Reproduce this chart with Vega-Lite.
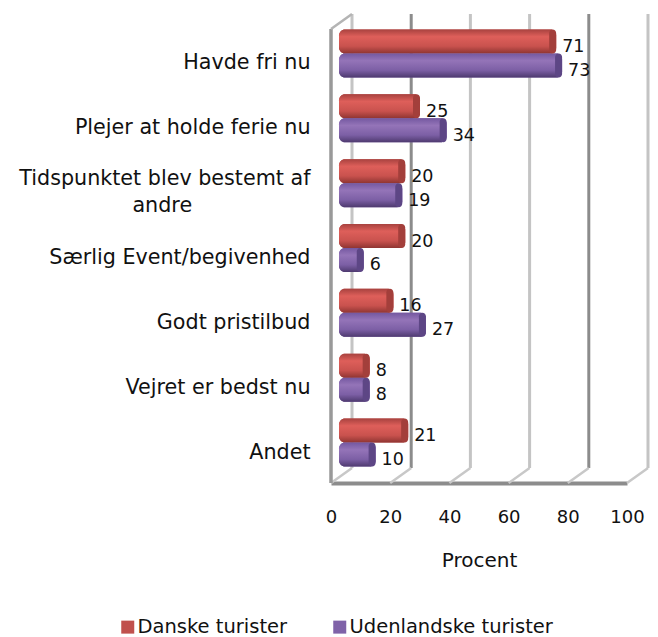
{
"$schema":"https://vega.github.io/schema/vega-lite/v6.json",
"autosize":"none","width":296,"height":469,
"padding":{"left":331,"top":14,"right":31,"bottom":154},
"background":"white",
"config":{"view":{"stroke":null},"text":{"font":"DejaVu Sans"}},
"datasets":{
"grid":[{"v":0},{"v":20},{"v":40},{"v":60},{"v":80},{"v":100}],
"bars":[
{"reason":"Havde fri nu","group":"Danske turister","pct":71},
{"reason":"Havde fri nu","group":"Udenlandske turister","pct":73},
{"reason":"Plejer at holde ferie nu","group":"Danske turister","pct":25},
{"reason":"Plejer at holde ferie nu","group":"Udenlandske turister","pct":34},
{"reason":"Tidspunktet blev bestemt af andre","group":"Danske turister","pct":20},
{"reason":"Tidspunktet blev bestemt af andre","group":"Udenlandske turister","pct":19},
{"reason":"Særlig Event/begivenhed","group":"Danske turister","pct":20},
{"reason":"Særlig Event/begivenhed","group":"Udenlandske turister","pct":6},
{"reason":"Godt pristilbud","group":"Danske turister","pct":16},
{"reason":"Godt pristilbud","group":"Udenlandske turister","pct":27},
{"reason":"Vejret er bedst nu","group":"Danske turister","pct":8},
{"reason":"Vejret er bedst nu","group":"Udenlandske turister","pct":8},
{"reason":"Andet","group":"Danske turister","pct":21},
{"reason":"Andet","group":"Udenlandske turister","pct":10}
]},
"layer":[
{"data":{"name":"grid"},
 "mark":{"type":"rule","strokeWidth":3,"xOffset":21,"stroke":{"expr":"datum.v==20||datum.v==80?'#8c8c8c':'#c4c4c4'"}},
 "encoding":{"x":{"field":"v","type":"quantitative","scale":{"domain":[0,100],"nice":false}},"y":{"value":0},"y2":{"value":{"expr":"height-15"}}}},
{"data":{"name":"grid"},
 "mark":{"type":"rule","strokeWidth":2.5,"x2Offset":21,"stroke":"#c8c8c8"},
 "encoding":{"x":{"field":"v","type":"quantitative"},"x2":{"field":"v"},"y":{"value":{"expr":"height"}},"y2":{"value":{"expr":"height-15"}}}},
{"data":{"name":"grid"},"transform":[{"filter":"datum.v==0"}],
 "mark":{"type":"rule","strokeWidth":3.5,"stroke":"#999999"},
 "encoding":{"x":{"field":"v","type":"quantitative"},"y":{"value":15},"y2":{"value":{"expr":"height"}}}},
{"data":{"name":"grid"},"transform":[{"filter":"datum.v==0"}],
 "mark":{"type":"rule","strokeWidth":2.5,"x2Offset":21,"stroke":"#b4b4b4"},
 "encoding":{"x":{"field":"v","type":"quantitative"},"x2":{"field":"v"},"y":{"value":15},"y2":{"value":0}}},
{"data":{"name":"bars"},
 "mark":{"type":"bar","cornerRadius":6,"xOffset":15,"x2Offset":8},
 "encoding":{
  "x":{"field":"pct","type":"quantitative","scale":{"domain":[0,100],"nice":false},
   "axis":{"values":[0,20,40,60,80,100],"grid":false,"ticks":false,"domainColor":"#8c8c8c","domainWidth":4,"labelFont":"DejaVu Sans","labelFontSize":18,"labelColor":"#111111","labelPadding":25,"title":"Procent","titleFont":"DejaVu Sans","titleFontWeight":"normal","titleFontSize":20,"titleColor":"#111111","titlePadding":24,"titleAnchor":"middle","titleX":148,"format":"d","labelFlush":false}},
  "x2":{"datum":0},
  "y":{"field":"reason","type":"nominal","sort":null,
   "scale":{"range":[7,461],"paddingInner":0.26,"paddingOuter":0.13},
   "axis":{"title":null,"ticks":false,"domain":false,"labelFont":"DejaVu Sans","labelFontSize":20.7,"labelColor":"#111111","labelPadding":21,"labelLimit":330,
    "labelOffset":{"condition":{"test":"datum.value=='Tidspunktet blev bestemt af andre'","value":-4},"value":10},
    "labelExpr":"datum.label=='Tidspunktet blev bestemt af andre'?['Tidspunktet blev bestemt af','andre\u00a0\u00a0\u00a0\u00a0\u00a0\u00a0\u00a0\u00a0\u00a0\u00a0\u00a0\u00a0\u00a0\u00a0\u00a0\u00a0\u00a0\u00a0\u200b']:datum.label","labelLineHeight":27}},
  "yOffset":{"field":"group","type":"nominal","sort":null,"scale":{"paddingInner":0,"paddingOuter":0}},
  "color":{"field":"group","type":"nominal","sort":null,
   "scale":{"domain":["Danske turister","Udenlandske turister"],"range":["#c0504d","#7f62a8"]},
   "legend":{"title":null,"orient":"none","legendX":-213,"legendY":603,"direction":"horizontal","columns":2,"columnPadding":42,"symbolType":"square","symbolSize":169,"symbolStrokeWidth":0,"labelFont":"DejaVu Sans","labelFontSize":19.5,"labelColor":"#111111","labelOffset":0,"labelLimit":300}}
 }},
{"data":{"name":"bars"},"transform":[{"filter":"datum.group=='Danske turister'"}],
 "mark":{"type":"bar","cornerRadius":6,"xOffset":15,"x2Offset":8,
  "fill":{"x1":0,"y1":0,"x2":0,"y2":1,"gradient":"linear","stops":[{"offset":0,"color":"#a8423f"},{"offset":0.3,"color":"#de5f5a"},{"offset":0.7,"color":"#c9524e"},{"offset":1,"color":"#8f3532"}]}},
 "encoding":{
  "x":{"field":"pct","type":"quantitative"},"x2":{"datum":0},
  "y":{"field":"reason","type":"nominal","sort":null},
  "yOffset":{"field":"group","type":"nominal","sort":null}
 }},
{"data":{"name":"bars"},"transform":[{"filter":"datum.group!='Danske turister'"}],
 "mark":{"type":"bar","cornerRadius":6,"xOffset":15,"x2Offset":8,
  "fill":{"x1":0,"y1":0,"x2":0,"y2":1,"gradient":"linear","stops":[{"offset":0,"color":"#7458a0"},{"offset":0.3,"color":"#9474b8"},{"offset":0.7,"color":"#7c5fa5"},{"offset":1,"color":"#4e3a6f"}]}},
 "encoding":{
  "x":{"field":"pct","type":"quantitative"},"x2":{"datum":0},
  "y":{"field":"reason","type":"nominal","sort":null},
  "yOffset":{"field":"group","type":"nominal","sort":null}
 }},
{"data":{"name":"bars"},
 "mark":{"type":"bar","cornerRadius":4,"xOffset":15,"x2Offset":8},
 "encoding":{
  "x":{"field":"pct","type":"quantitative"},"x2":{"field":"pct"},
  "y":{"field":"reason","type":"nominal","sort":null},
  "yOffset":{"field":"group","type":"nominal","sort":null},
  "fill":{"field":"group","type":"nominal","sort":null,"scale":{"domain":["Danske turister","Udenlandske turister"],"range":["#a33f3b","#5d4685"]},"legend":null}
 }},
{"data":{"name":"bars"},
 "mark":{"type":"text","align":"left","baseline":"middle","font":"DejaVu Sans","fontSize":17.5,"xOffset":21,"dy":5.5,"color":"#111111"},
 "encoding":{
  "x":{"field":"pct","type":"quantitative"},
  "y":{"field":"reason","type":"nominal","sort":null},
  "yOffset":{"field":"group","type":"nominal","sort":null},
  "text":{"field":"pct","type":"quantitative"}
 }}
],
"resolve":{"scale":{"fill":"independent"}}
}
